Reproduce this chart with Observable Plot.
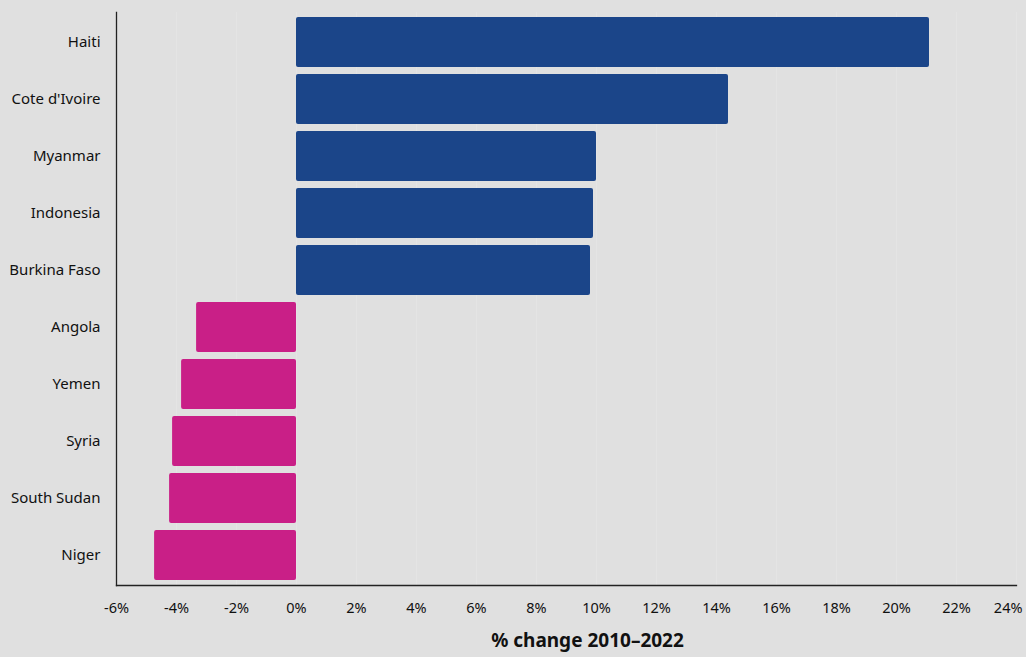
<!DOCTYPE html>
<html><head><meta charset="utf-8">
<script src="https://cdn.jsdelivr.net/npm/d3@7"></script>
<script src="https://cdn.jsdelivr.net/npm/@observablehq/plot@0.6"></script>
<style>
html,body{margin:0;padding:0;background:#e0e0e0;}
#chart svg{display:block;}
</style></head>
<body><div id="chart"></div>
<script>
const countries = ["Haiti","Cote d'Ivoire","Myanmar","Indonesia","Burkina Faso","Angola","Yemen","Syria","South Sudan","Niger"];
const changes = [21.1, 14.4, 10.0, 9.9, 9.8, -3.33, -3.83, -4.13, -4.23, -4.73];
const xTicks = [-6,-4,-2,0,2,4,6,8,10,12,14,16,18,20,22,24];
const data = countries.map((c,i)=>({country:c, value:changes[i]}));
const fmt = d => d + "%";
const lastTick = xTicks[xTicks.length-1];

const plot = Plot.plot({
  width: 1026, height: 657,
  marginTop: 12, marginBottom: 72, marginLeft: 116, marginRight: 10,
  style: {background:"#e0e0e0", fontFamily:"Noto Sans, sans-serif", fontSize:"14px", color:"#111"},
  x: {domain:[-6,24], label: null},
  y: {domain: countries, paddingInner: 0.123, paddingOuter: 0.08, label: null},
  marks: [
    Plot.ruleX(xTicks, {stroke:"#ffffff", strokeOpacity:0.15}),
    Plot.barX(data, {x1:0, x2:"value", y:"country", fill: d => d.value >= 0 ? "#1b4589" : "#c91f87", rx: 2}),
    Plot.axisX(xTicks.slice(0,-1), {tickSize:0, tickPadding: 17, tickFormat: fmt, fontSize: 14.5, label:null}),
    Plot.text([lastTick], {x: d => d, text: fmt, frameAnchor:"bottom", dy: 27, dx: 6, textAnchor:"end", fontSize: 14.5, fill:"#111"}),
    Plot.axisY({tickSize:0, tickPadding: 16, fontSize: 15, label:null}),
    Plot.frame({anchor:"bottom", stroke:"#222", strokeWidth:1.3}),
    Plot.frame({anchor:"left", stroke:"#222", strokeWidth:1.3}),
    Plot.text(["% change 2010–2022"], {frameAnchor:"bottom", dy: 61, x: 9.7, fontSize: 19, fontWeight:"bold", fill:"#111"})
  ]
});
document.getElementById("chart").appendChild(plot);
</script></body></html>
